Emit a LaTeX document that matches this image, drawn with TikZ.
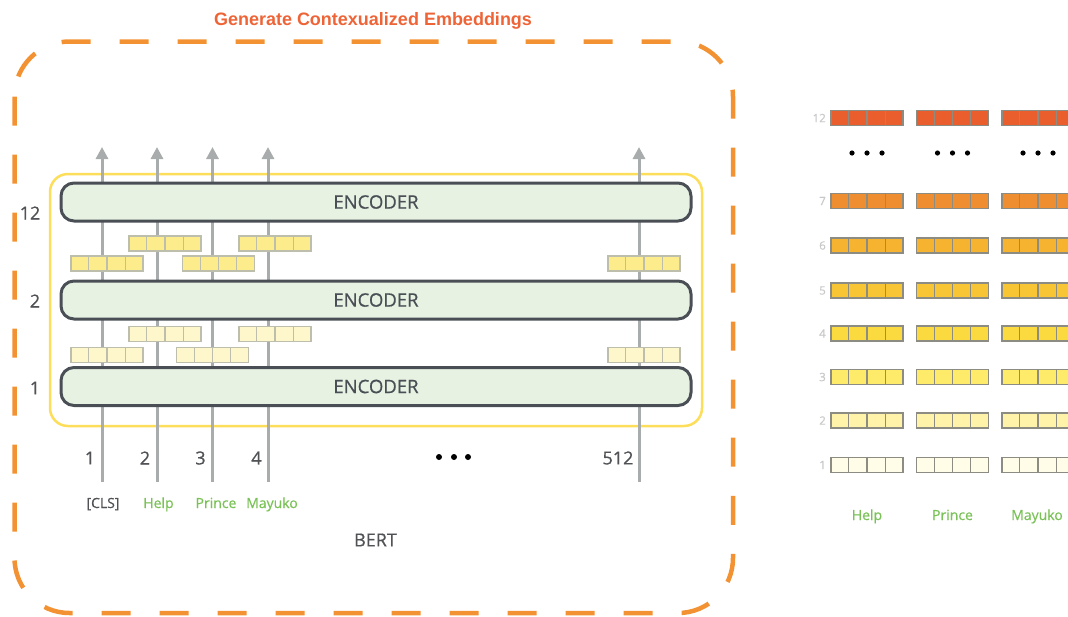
\documentclass[tikz,border=0pt]{standalone}
\usepackage{fontspec}
\setmainfont{Open Sans}[FakeBold=0.6]
\newfontfamily\titlefont{Liberation Sans}
\usepackage{tikz}
\usetikzlibrary{arrows.meta,calc,positioning}

\definecolor{dashorange}{RGB}{242,146,51}
\definecolor{titleorange}{RGB}{238,100,55}
\definecolor{frameyellow}{RGB}{252,222,90}
\definecolor{encfill}{RGB}{231,242,227}
\definecolor{encdraw}{RGB}{74,79,85}
\definecolor{arrowgray}{RGB}{168,172,172}
\definecolor{textgray}{RGB}{80,82,85}
\definecolor{wordgreen}{RGB}{122,194,88}
\definecolor{lightlabel}{RGB}{200,200,200}
\definecolor{cellpale}{RGB}{190,190,172}
\definecolor{celldark}{RGB}{140,140,130}
\definecolor{vecup}{RGB}{253,236,140}
\definecolor{veclow}{RGB}{255,247,204}
\definecolor{lvlA}{RGB}{255,252,232}
\definecolor{lvlB}{RGB}{254,243,168}
\definecolor{lvlC}{RGB}{254,235,106}
\definecolor{lvlD}{RGB}{251,218,63}
\definecolor{lvlE}{RGB}{248,197,53}
\definecolor{lvlF}{RGB}{246,179,48}
\definecolor{lvlG}{RGB}{239,142,48}
\definecolor{lvlL}{RGB}{234,93,45}

% one embedding vector of four cells: name, x, y, fill, line
\newcommand{\embvec}[5]{%
  \node[vecbox,fill=#4,draw=#5] (#1) at (#2,#3) {};
  \foreach \k in {1,2,3}
    \draw[#5,line width=1.1pt] ($(#1.north west)!\k/4!(#1.north east)$) -- ($(#1.south west)!\k/4!(#1.south east)$);
}

\begin{document}
\begin{tikzpicture}[x=1pt,y=-1pt,>={Triangle[length=12pt,width=12pt]},
                    font=\fontsize{18}{21}\selectfont]
  \tikzstyle{encoder}=[draw=encdraw,fill=encfill,line width=3pt,rounded corners=13pt,
                       minimum width=630pt,minimum height=38pt,inner sep=0pt,text=encdraw,
                       font=\fontsize{18.5}{21}\selectfont]
  \tikzstyle{vecbox}=[minimum width=72pt,minimum height=15pt,inner sep=0pt,line width=1.1pt]
  \tikzstyle{flow}=[->,draw=arrowgray,line width=3pt]
  \tikzstyle{numlabel}=[text=textgray,inner sep=0pt]
  \tikzstyle{token}=[text=wordgreen,inner sep=0pt,anchor=base,font=\fontsize{14}{16}\selectfont]
  \tikzstyle{rowlabel}=[text=lightlabel,inner sep=0pt,anchor=east,font=\fontsize{11.5}{13}\selectfont]
  \tikzstyle{blackdot}=[fill=black]

  \useasboundingbox (0,0) rectangle (1068,616);

  % outer frame and title
  \draw[dashorange,line width=4.5pt,dash pattern=on 29pt off 29pt,rounded corners=55pt]
    (14.5,41.5) rectangle (733,613);
  \node[text=titleorange,anchor=base,inner sep=0pt] (title) at (373,25)
    {\titlefont\bfseries\resizebox{318pt}{\height}{\fontsize{18}{21}\selectfont Generate Contexualized Embeddings}};

  % BERT block
  \draw[frameyellow,line width=2.5pt,rounded corners=18pt] (50,174) rectangle (702,426);

  \foreach \n/\xx in {1/102,2/157,3/212.5,4/268,512/639} {
    \coordinate (in\n) at (\xx,482);
    \coordinate (out\n) at (\xx,147);
  }
  \foreach \n in {1,2,3,4,512}
    \draw[flow] (in\n) -- (out\n);

  \node[encoder] (enc12) at (376,202) {ENCODER};
  \node[encoder] (enc2) at (376,300) {ENCODER};
  \node[encoder] (enc1) at (376,386.5) {ENCODER};

  \node[numlabel] (lay12) at (30,213) {12};
  \node[numlabel] (lay2) at (35,301) {2};
  \node[numlabel] (lay1) at (35,388) {1};

  % vectors between the encoders
  \embvec{upA1}{165}{243.5}{vecup}{cellpale}
  \embvec{upA2}{275}{243.5}{vecup}{cellpale}
  \embvec{upB1}{107}{263.5}{vecup}{cellpale}
  \embvec{upB2}{218.5}{263.5}{vecup}{cellpale}
  \embvec{upB3}{644}{263.5}{vecup}{cellpale}
  \embvec{lowA1}{165}{334}{veclow}{cellpale}
  \embvec{lowA2}{275}{334}{veclow}{cellpale}
  \embvec{lowB1}{107}{355}{veclow}{cellpale}
  \embvec{lowB2}{212.5}{355}{veclow}{cellpale}
  \embvec{lowB3}{644}{355}{veclow}{cellpale}

  % positions and tokens
  \node[numlabel] (p1) at (90,458) {1};
  \node[numlabel] (p2) at (145,458) {2};
  \node[numlabel] (p3) at (200.5,458) {3};
  \node[numlabel] (p4) at (256.5,458) {4};
  \node[numlabel] (p512) at (618,458) {512};
  \foreach \xx in {439,454,468}
    \fill[blackdot] (\xx,457) circle (3pt);

  \node[token,text=textgray] (cls) at (103,508) {[CLS]};
  \node[token] (help) at (158.5,508) {Help};
  \node[token] (prince) at (216,508) {Prince};
  \node[token] (mayuko) at (272,508) {Mayuko};

  \node[numlabel] (bert) at (375.5,540) {BERT};

  % layer outputs per word
  \foreach \lvl/\yy/\col in {1/465/lvlA,2/420.5/lvlB,3/377/lvlC,4/333.5/lvlD,
                             5/290.5/lvlE,6/245.5/lvlF,7/201/lvlG,12/118/lvlL} {
    \node[rowlabel] (row\lvl) at (826,\yy) {\lvl};
    \foreach \word/\xx in {help/867,prince/952.5,mayuko/1038} {
      \embvec{\word\lvl}{\xx}{\yy}{\col}{celldark}
    }
  }
  \foreach \xx in {852,867,882,937.5,952.5,967.5,1023,1038,1053}
    \fill[blackdot] (\xx,153) circle (2.6pt);

  \node[token] (helpw) at (867,520) {Help};
  \node[token] (princew) at (952.5,520) {Prince};
  \node[token] (mayukow) at (1037,520) {Mayuko};
\end{tikzpicture}
\end{document}
